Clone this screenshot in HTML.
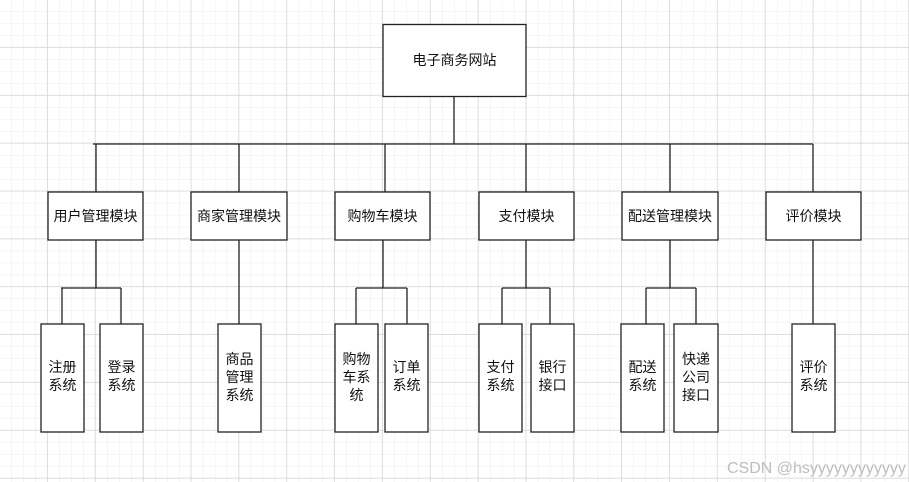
<!DOCTYPE html>
<html><head><meta charset="utf-8"><style>
html,body{margin:0;padding:0;background:#fff;}
svg{display:block;}
text{font-family:"Liberation Sans","Noto Sans CJK SC",sans-serif;font-size:14px;fill:#111;}
</style></head><body>
<svg width="909" height="482" viewBox="0 0 909 482" xmlns="http://www.w3.org/2000/svg">
<defs>
<pattern id="minor" width="11.9625" height="11.9625" patternUnits="userSpaceOnUse">
<path d="M11.9625 0V11.9625M0 11.9625H11.9625" stroke="#ececec" stroke-width="1" fill="none"/>
</pattern>
<pattern id="major" width="47.85" height="47.85" patternUnits="userSpaceOnUse">
<rect width="47.85" height="47.85" fill="url(#minor)"/>
<path d="M47.85 0V47.85M0 47.85H47.85" stroke="#d2d2d2" stroke-width="1.5" fill="none"/>
</pattern>
</defs>
<rect x="-0.3" y="-0.3" width="910" height="483" fill="url(#major)"/>
<g stroke="#222" stroke-width="1.3" fill="none">
<path d="M454 96V144M93 144H813"/>
<path d="M96 144V192M239 144V192M385 144V192M526 144V192M670 144V192M813 144V192"/>
<path d="M96 240V288M61 288H121M62 288V324M121 288V324"/>
<path d="M239 240V324"/>
<path d="M383 240V288M356 288H407M356 288V324M407 288V324"/>
<path d="M526 240V288M502 288H550M502 288V324M550 288V324"/>
<path d="M670 240V288M646 288H696M646 288V324M696 288V324"/>
<path d="M813 240V324"/>
</g>
<g stroke="#222" stroke-width="1.3" fill="#fff">
<rect x="383" y="24.5" width="143" height="72"/>
<rect x="48" y="192" width="95" height="48"/>
<rect x="191" y="192" width="96" height="48"/>
<rect x="335" y="192" width="95" height="48"/>
<rect x="479" y="192" width="95" height="48"/>
<rect x="622" y="192" width="96" height="48"/>
<rect x="766" y="192" width="95" height="48"/>
<rect x="41" y="324" width="43" height="108"/>
<rect x="100" y="324" width="43" height="108"/>
<rect x="218" y="324" width="43" height="108"/>
<rect x="335" y="324" width="43" height="108"/>
<rect x="385" y="324" width="43" height="108"/>
<rect x="479" y="324" width="43" height="108"/>
<rect x="531" y="324" width="43" height="108"/>
<rect x="621" y="324" width="43" height="108"/>
<rect x="674" y="324" width="44" height="108"/>
<rect x="792" y="324" width="43" height="108"/>
</g>
<g text-anchor="middle">
<text x="454.5" y="65">电子商务网站</text>
<text x="95.5" y="221">用户管理模块</text>
<text x="239" y="221">商家管理模块</text>
<text x="382.5" y="221">购物车模块</text>
<text x="526.5" y="221">支付模块</text>
<text x="670" y="221">配送管理模块</text>
<text x="813.5" y="221">评价模块</text>
<text x="62.5" y="372">注册</text><text x="62.5" y="390">系统</text>
<text x="121.5" y="372">登录</text><text x="121.5" y="390">系统</text>
<text x="239.5" y="364">商品</text><text x="239.5" y="382">管理</text><text x="239.5" y="400">系统</text>
<text x="356.5" y="364">购物</text><text x="356.5" y="382">车系</text><text x="356.5" y="400">统</text>
<text x="406.5" y="372">订单</text><text x="406.5" y="390">系统</text>
<text x="500.5" y="372">支付</text><text x="500.5" y="390">系统</text>
<text x="552.5" y="372">银行</text><text x="552.5" y="390">接口</text>
<text x="642.5" y="372">配送</text><text x="642.5" y="390">系统</text>
<text x="696" y="364">快递</text><text x="696" y="382">公司</text><text x="696" y="400">接口</text>
<text x="813.5" y="372">评价</text><text x="813.5" y="390">系统</text>
</g>
<text x="727" y="473" style="font-size:16px;fill:#bdbdbd;">CSDN @hsyyyyyyyyyyyy</text>
</svg>
</body></html>
